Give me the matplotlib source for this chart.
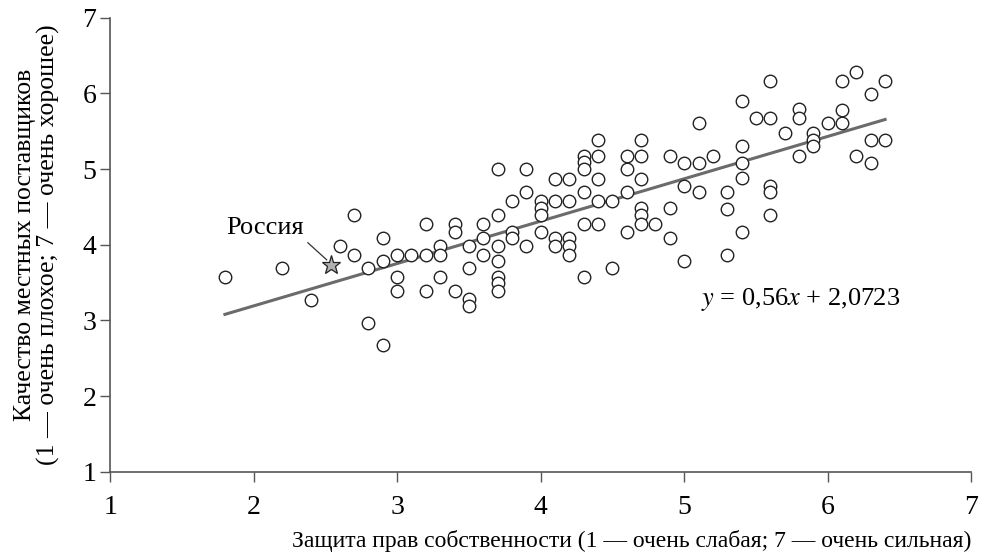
import matplotlib
matplotlib.use("Agg")
import matplotlib.pyplot as plt

plt.rcParams['font.family'] = ['Liberation Serif', 'DejaVu Serif']
plt.rcParams['mathtext.fontset'] = 'stix'

# property-rights protection (x) vs local supplier quality (y)
x_vals = [1.8, 2.2, 2.4, 2.6, 2.7, 2.7, 2.8, 2.8, 2.9, 2.9, 2.9,
          3.0, 3.0, 3.0, 3.1, 3.2, 3.2, 3.2, 3.3, 3.3, 3.3, 3.4, 3.4, 3.4,
          3.5, 3.5, 3.5, 3.5, 3.6, 3.6, 3.6, 3.7, 3.7, 3.7, 3.7, 3.7, 3.7, 3.7,
          3.8, 3.8, 3.8, 3.9, 3.9, 3.9, 4.0, 4.0, 4.0, 4.0,
          4.1, 4.1, 4.1, 4.1, 4.2, 4.2, 4.2, 4.2, 4.2,
          4.3, 4.3, 4.3, 4.3, 4.3, 4.3, 4.4, 4.4, 4.4, 4.4, 4.4,
          4.5, 4.5, 4.6, 4.6, 4.6, 4.6, 4.7, 4.7, 4.7, 4.7, 4.7, 4.7,
          4.8, 4.9, 4.9, 4.9, 5.0, 5.0, 5.0, 5.1, 5.1, 5.1, 5.2,
          5.3, 5.3, 5.3, 5.4, 5.4, 5.4, 5.4, 5.4, 5.5,
          5.6, 5.6, 5.6, 5.6, 5.6, 5.7, 5.8, 5.8, 5.8, 5.9, 5.9, 5.9,
          6.0, 6.1, 6.1, 6.1, 6.2, 6.2, 6.3, 6.3, 6.3, 6.4, 6.4]
y_vals = [3.58, 3.69, 3.27, 3.98, 4.40, 3.87, 3.69, 2.97, 4.09, 3.79, 2.67,
          3.87, 3.58, 3.39, 3.87, 4.28, 3.87, 3.39, 3.98, 3.87, 3.58, 4.28, 4.17, 3.39,
          3.98, 3.69, 3.28, 3.19, 4.28, 4.09, 3.87, 5.00, 4.40, 3.98, 3.79, 3.58, 3.49, 3.39,
          4.58, 4.17, 4.09, 5.00, 4.70, 3.98, 4.58, 4.48, 4.39, 4.17,
          4.87, 4.58, 4.09, 3.98, 4.87, 4.58, 4.09, 3.98, 3.87,
          5.18, 5.09, 5.00, 4.70, 4.28, 3.58, 5.38, 5.18, 4.87, 4.58, 4.28,
          4.58, 3.69, 5.18, 5.00, 4.70, 4.17, 5.38, 5.18, 4.87, 4.48, 4.39, 4.28,
          4.28, 5.18, 4.48, 4.09, 5.08, 4.78, 3.79, 5.61, 5.08, 4.70, 5.18,
          4.70, 4.47, 3.87, 5.90, 5.30, 5.08, 4.88, 4.17, 5.68,
          6.17, 5.68, 4.78, 4.70, 4.40, 5.48, 5.79, 5.68, 5.18, 5.48, 5.39, 5.30,
          5.61, 6.17, 5.78, 5.61, 6.29, 5.18, 5.99, 5.39, 5.08, 6.17, 5.39]

russia = (2.54, 3.73)
slope, intercept = 0.56, 2.0723
fit_x = [1.8, 6.4]
fit_y = [slope * v + intercept for v in fit_x]

fig = plt.figure(figsize=(9.83, 5.57), dpi=100)
ax = fig.add_axes([0.112, 0.153, 0.876, 0.815])

ax.plot(fit_x, fit_y, color='#6b6b6b', lw=2.2, zorder=1)
ax.plot(x_vals, y_vals, 'o', ms=9, mfc='white', mec='#222222', mew=1.0, zorder=2)
ax.plot(*russia, marker='*', ms=14, mfc='#b0b0b0', mec='#222222', mew=0.9,
        ls='none', zorder=3)

ax.annotate('Россия', xy=(russia[0] - 0.03, russia[1] + 0.07), xytext=(2.08, 4.22),
            fontsize=19, ha='center', va='center',
            arrowprops=dict(arrowstyle='-', color='#333333', lw=0.9,
                            shrinkA=1, shrinkB=0, relpos=(1.0, 0.0)))

ax.text(5.12, 3.28, '$y$ = 0,56$x$ + 2,0723', fontsize=19, va='center', ha='left')

ax.set_xlim(1, 7)
ax.set_ylim(1, 7)
ax.set_xticks(range(1, 8))
ax.set_yticks(range(1, 8))
for s in ['top', 'right']:
    ax.spines[s].set_visible(False)
for s in ['left', 'bottom']:
    ax.spines[s].set_color('#555555')
    ax.spines[s].set_linewidth(1.2)
ax.tick_params(axis='both', direction='out', length=7, width=1, color='#555555',
               labelsize=20)
ax.tick_params(axis='x', pad=10)
ax.tick_params(axis='y', pad=3)

ax.set_xlabel('Защита прав собственности (1 — очень слабая; 7 — очень сильная)',
              fontsize=17, loc='right', labelpad=7)
ax.set_ylabel('Качество местных поставщиков\n(1 — очень плохое; 7 — очень хорошее)',
              fontsize=18.5, labelpad=16, linespacing=1.05)

fig.savefig('out.png', dpi=100)
